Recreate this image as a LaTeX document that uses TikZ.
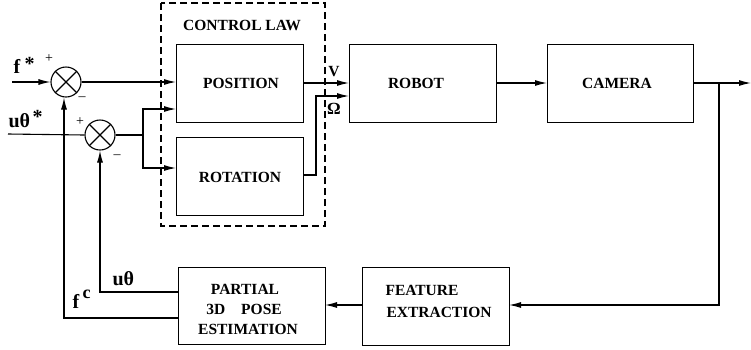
\documentclass[tikz,border=0pt]{standalone}
\usepackage{fontspec}
\setmainfont{Liberation Serif}
\usetikzlibrary{arrows.meta}
\begin{document}
\begin{tikzpicture}[x=1pt,y=-1pt,
  line width=1.1pt,
  font=\fontsize{15.5}{18}\selectfont\bfseries,
  blk/.style={draw, line width=1.3pt, inner sep=0pt, anchor=north west},
  sumnode/.style={draw, circle, line width=1.1pt, minimum size=30pt, inner sep=0pt},
  flow/.style={-{Latex[length=12pt,width=6pt]}},
  lbl/.style={inner sep=0pt, anchor=base},
  sym/.style={inner sep=0pt, anchor=base west, font=\fontsize{20}{22}\selectfont\bfseries},
  sgn/.style={inner sep=0pt, font=\fontsize{14}{16}\selectfont}]
\useasboundingbox (0,0) rectangle (751,349);

% controller group
\draw[dashed, dash pattern=on 7pt off 4pt, line width=1.1pt] (161,3) rectangle (325,226);
\node[lbl] (law) at (242,30) {CONTROL LAW};

% blocks
\node[blk, minimum width=127pt, minimum height=78pt] (pos) at (176,44) {};
\node at (241,83) {POSITION};
\node[blk, minimum width=127pt, minimum height=78pt] (rot) at (176,137) {};
\node at (240,177) {ROTATION};
\node[blk, minimum width=147pt, minimum height=78pt] (robot) at (349,44) {};
\node at (416,83) {ROBOT};
\node[blk, minimum width=146pt, minimum height=78pt] (cam) at (547,44) {};
\node at (617,83) {CAMERA};
\node[blk, minimum width=147pt, minimum height=78pt] (feat) at (362,267) {};
\node[anchor=west, inner sep=0pt] at (385,290) {FEATURE};
\node[anchor=west, inner sep=0pt] at (386,312) {EXTRACTION};
\node[blk, minimum width=147pt, minimum height=77pt] (pose) at (178,267) {};
\node at (245,289) {PARTIAL};
\node at (244,309) {3D\hspace{16pt}POSE};
\node at (248,329) {ESTIMATION};

% summing junctions
\node[sumnode] (s1) at (66,82) {};
\node[sumnode] (s2) at (100,135) {};
\foreach \s in {s1,s2}{
  \draw (\s.north west) -- (\s.south east);
  \draw (\s.north east) -- (\s.south west);
}

% inputs
\coordinate (fin) at (12,82);
\coordinate (uin) at (8,134);
\draw[flow] (fin) -- (s1.west);
\draw (uin) -- (s2.west);
\node[sym] at (13,73) {f};
\node[sym] at (24,70) {*};
\node[sym] at (8,127) {uθ};
\node[sym] at (32,123) {*};
\node[sgn] at (49,59) {+};
\node[sgn] at (82,99) {--};
\node[sgn] at (80,122) {+};
\node[sgn] at (117,157) {--};

% controller connections
\draw[flow] (s1.east) -- (pos.west |- s1.east);
\coordinate (br) at (143,135);
\draw (s2.east) -- (br);
\draw[flow] (br) |- (176,109);
\draw[flow] (br) |- (176,168);

% controller outputs
\draw[flow] (303,83) -- (349,83);
\coordinate (om) at (316,175);
\draw[flow] (303,175) -- (om) |- (349,96);
\node[lbl] at (334,76) {V};
\node[lbl, font=\fontsize{17}{19}\selectfont\bfseries] at (334,114) {Ω};

% plant and sensor
\draw[flow] (robot.east |- 0,83) -- (cam.west |- 0,83);
\coordinate (tap) at (719,83);
\coordinate (out) at (751,83);
\draw[flow] (cam.east |- 0,83) -- (out);
\draw[flow] (tap) -- (719,305) -- (509,305);
\draw[flow] (362,305) -- (325,305);

% feedback paths
\draw[flow] (178,292) -- (100,292) -- (s2.south);
\draw[flow] (178,318) -- (64,318) -- (s1.south -| 64,0);
\node[sym] at (112,285) {uθ};
\node[sym] at (72,308) {f};
\node[sym, font=\fontsize{18}{20}\selectfont\bfseries] at (82,298) {c};
\end{tikzpicture}
\end{document}
